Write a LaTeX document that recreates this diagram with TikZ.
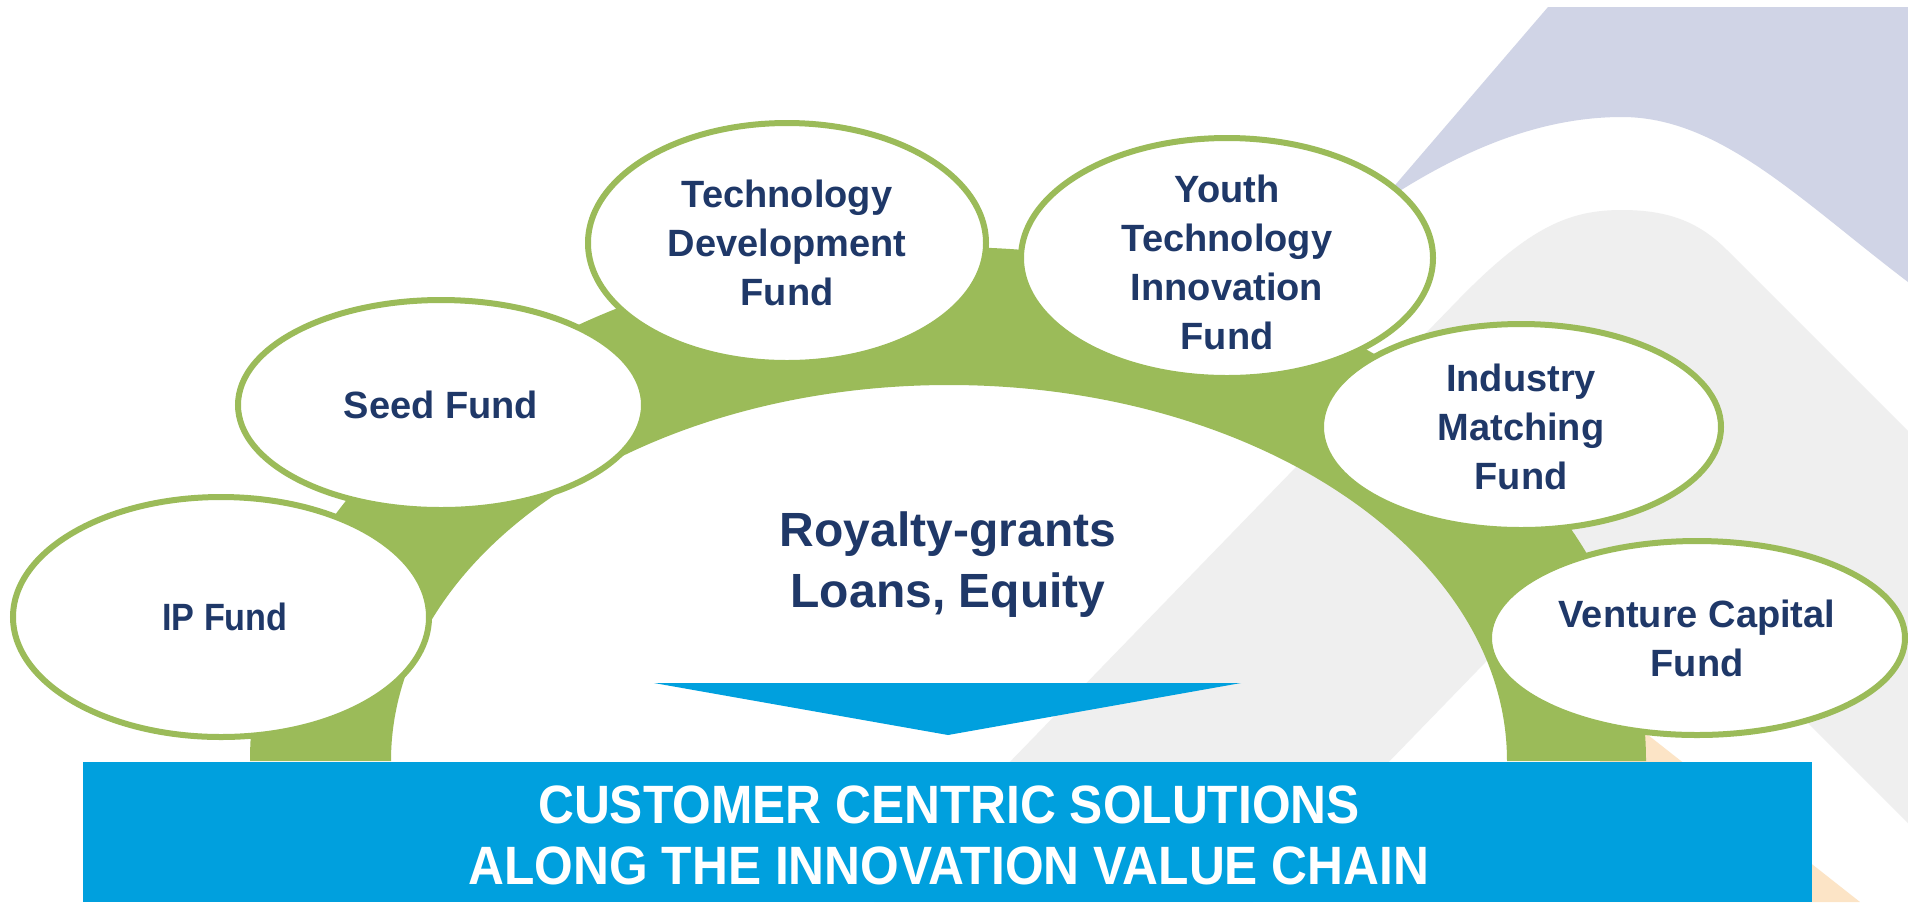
\documentclass[tikz,border=0pt]{standalone}
\usepackage{fontspec}
\setmainfont{Liberation Sans}
\newfontfamily\narrowsans[FakeStretch=0.92]{Liberation Sans}
\newfontfamily\ipsans[FakeStretch=0.9]{Liberation Sans}
\usetikzlibrary{shapes.geometric}
\definecolor{ringgreen}{RGB}{155,187,89}
\definecolor{boxblue}{RGB}{0,160,222}
\definecolor{navy}{RGB}{31,56,104}
\definecolor{lav}{RGB}{208,212,230}
\definecolor{bggray}{RGB}{239,239,239}
\definecolor{peach}{RGB}{252,228,198}
\begin{document}
\begin{tikzpicture}[x=0.5pt,y=-0.5pt,
  fund/.style={ellipse, draw=ringgreen, line width=3pt, fill=white, inner sep=0pt},
  fundtext/.style={align=center, text=navy, inner sep=0pt, font=\bfseries\fontsize{19}{24.5}\selectfont},
  midtext/.style={align=center, text=navy, inner sep=0pt, font=\bfseries\fontsize{24}{30.5}\selectfont},
  boxtext/.style={align=center, text=white, inner sep=0pt, font=\narrowsans\bfseries\fontsize{27}{30.5}\selectfont}]
\useasboundingbox (0,0) rectangle (1908,902);
\fill[white] (0,0) rectangle (1908,902);
% background decoration
\fill[lav] (1548,7) -- (1908,7) -- (1908,282) .. controls (1800,200) and (1720,117) .. (1622,117)
  .. controls (1540,117) and (1460,150) .. (1378,205) -- cycle;
\fill[bggray] (874,902) -- (1458,300) .. controls (1530,226) and (1570,210) .. (1622,210)
  .. controls (1670,210) and (1700,223) .. (1727,250) -- (1908,431) -- (1908,823) -- (1700,615)
  .. controls (1650,562) and (1585,562) .. (1540,606) -- (1253,902) -- cycle;
\fill[peach] (1600,735) -- (1648,735) -- (1860,902) -- (1600,902) -- cycle;
% green arch
\fill[ringgreen] (250,761) arc[start angle=180,end angle=360,x radius=698,y radius=514]
  -- (1507,761) arc[start angle=0,end angle=-180,x radius=558,y radius=376] -- cycle;
% arrow triangle
\fill[boxblue] (654,683) -- (1241,683) -- (948,735) -- cycle;
\node[midtext] (mid) at (948,565) {Royalty-grants\\Loans, Equity};
% funds
\node[fund, minimum width=208pt, minimum height=120pt] (ip) at (221,617) {};
\node[fund, minimum width=203pt, minimum height=105pt] (seed) at (441,405) {};
\node[fund, minimum width=199pt, minimum height=120pt] (tdf) at (787,243) {};
\node[fund, minimum width=206pt, minimum height=120pt] (ytif) at (1227,258) {};
\node[fund, minimum width=200pt, minimum height=103pt] (imf) at (1521,427) {};
\node[fund, minimum width=208pt, minimum height=97pt] (vcf) at (1697,638) {};
\node[fundtext, font=\ipsans\bfseries\fontsize{19}{24.5}\selectfont] (ipt) at ([xshift=2pt]ip.center) {IP Fund};
\node[fundtext] (seedt) at (seed.center) {Seed Fund};
\node[fundtext] (tdft) at (tdf.center) {Technology\\Development\\Fund};
\node[fundtext] (ytift) at ([yshift=-2pt]ytif.center) {Youth\\Technology\\Innovation\\Fund};
\node[fundtext] (imft) at (imf.center) {Industry\\Matching\\Fund};
\node[fundtext] (vcft) at (vcf.center) {Venture Capital\\Fund};
% bottom box
\node[fill=boxblue, inner sep=0pt, minimum width=864.5pt, minimum height=70pt, anchor=north west] (box) at (83,762) {};
\node[boxtext] (boxt) at (949,835) {CUSTOMER CENTRIC SOLUTIONS\\ALONG THE INNOVATION VALUE CHAIN};
\end{tikzpicture}
\end{document}
